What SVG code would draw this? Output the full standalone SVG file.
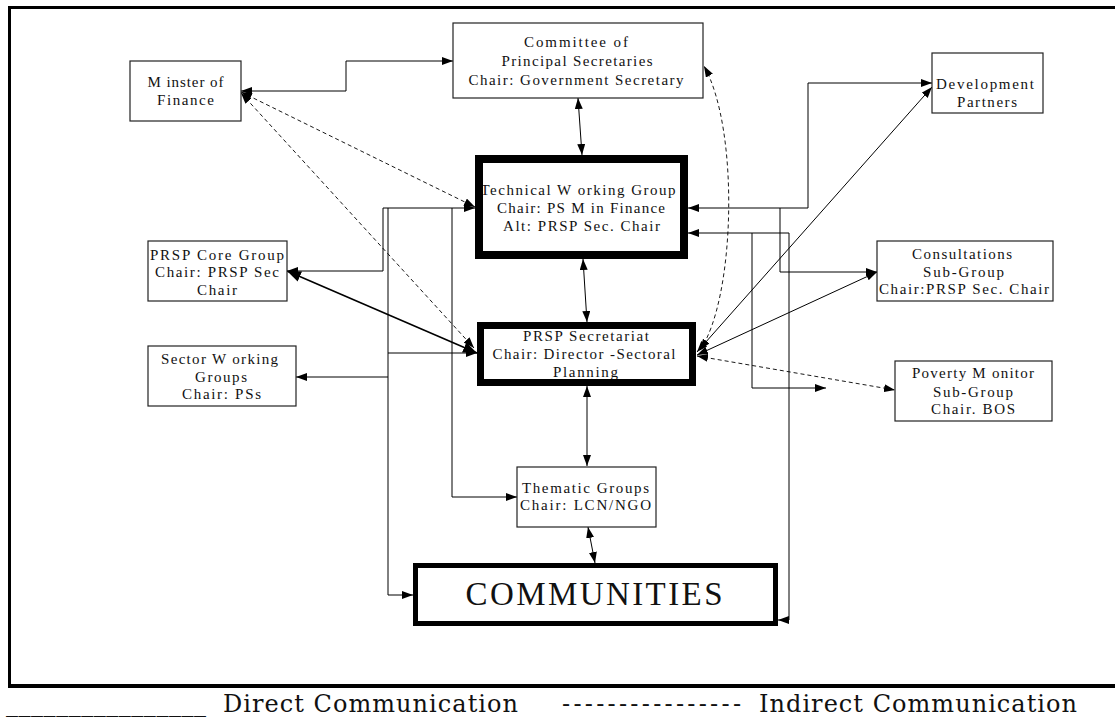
<svg xmlns="http://www.w3.org/2000/svg" width="1115" height="720" viewBox="0 0 1115 720">
<style>
  .box { fill: #fff; stroke: #222; stroke-width: 1.2; }
  .thick { fill: none; stroke: #000; }
  .lbl { font-family: "Liberation Serif", "Times New Roman", serif; font-size: 15px; fill: #111; text-anchor: middle; }
  .big { font-family: "Liberation Serif", "Times New Roman", serif; font-size: 33px; fill: #111; text-anchor: middle; }
  .leg { font-family: "DejaVu Serif", "Liberation Serif", serif; font-size: 24px; fill: #111; }
  .ln { fill: none; stroke: #000; stroke-width: 1; }
  .lnb { fill: none; stroke: #000; stroke-width: 1.6; }
  .dash { fill: none; stroke: #000; stroke-width: 0.9; stroke-dasharray: 4 3; }
</style>
<defs>
  <marker id="ah" viewBox="0 0 11 8" refX="11" refY="4" markerWidth="11" markerHeight="8" markerUnits="userSpaceOnUse" orient="auto-start-reverse">
    <path d="M0,0 L11,4 L0,8 z" fill="#000"/>
  </marker>
  <marker id="ahb" viewBox="0 0 14 11" refX="14" refY="5.5" markerWidth="14" markerHeight="11" markerUnits="userSpaceOnUse" orient="auto-start-reverse">
    <path d="M0,0 L14,5.5 L0,11 z" fill="#000"/>
  </marker>
</defs>

<rect x="0" y="0" width="1115" height="720" fill="#fff"/>

<!-- outer frame -->
<g id="frame">
  <path d="M1120,7.5 H9.5 V686" fill="none" stroke="#000" stroke-width="3"/>
  <line x1="8" y1="686" x2="1120" y2="686" stroke="#000" stroke-width="4"/>
</g>

<!-- connectors -->
<g id="connectors">
  <path class="ln" d="M241,91 H346 V61 H453" marker-start="url(#ah)" marker-end="url(#ah)"/>
  <path class="ln" d="M578,98 L582,155" marker-start="url(#ah)" marker-end="url(#ah)"/>
  <path class="ln" d="M583,259 L587,322" marker-start="url(#ah)" marker-end="url(#ah)"/>
  <path class="ln" d="M587,386 L587,466" marker-start="url(#ah)" marker-end="url(#ah)"/>
  <path class="ln" d="M588,527 L595,563" marker-start="url(#ah)" marker-end="url(#ah)"/>
  <path class="ln" d="M475,208 H383 V271 H287" marker-start="url(#ah)" marker-end="url(#ah)"/>
  <path class="lnb" d="M287,271 L477,353" marker-start="url(#ahb)" marker-end="url(#ahb)"/>
  <path class="ln" d="M388,208 V595 H413" marker-end="url(#ah)"/>
  <path class="ln" d="M388,353 H477" marker-end="url(#ah)"/>
  <path class="ln" d="M388,377 H296" marker-end="url(#ah)"/>
  <path class="ln" d="M452,208 V497 H517" marker-end="url(#ah)"/>
  <path class="ln" d="M688,208 H808 V83 H932" marker-start="url(#ah)" marker-end="url(#ah)"/>
  <path class="ln" d="M780,208 V272 H877" marker-end="url(#ah)"/>
  <path class="ln" d="M688,233 H789 V620 H778" marker-start="url(#ah)" marker-end="url(#ah)"/>
  <path class="ln" d="M752,233 V388 H826" marker-end="url(#ah)"/>
  <path class="ln" d="M932,87 L697,352" marker-start="url(#ah)" marker-end="url(#ah)"/>
  <path class="ln" d="M877,272 L697,355" marker-start="url(#ah)" marker-end="url(#ah)"/>
  <path class="dash" d="M241,92 L475,207" marker-start="url(#ah)" marker-end="url(#ah)"/>
  <path class="dash" d="M241,93 L474,348" marker-start="url(#ah)" marker-end="url(#ah)"/>
  <path class="dash" d="M697,356 L895,390" marker-start="url(#ah)" marker-end="url(#ah)"/>
  <path class="dash" d="M700,350 C735,300 740,130 704,66" marker-start="url(#ah)" marker-end="url(#ah)"/>
</g>

<g id="minister">
  <rect class="box" x="130" y="61" width="111" height="60"/>
  <text class="lbl" x="185.5" y="87" textLength="76" lengthAdjust="spacing">M inster of</text>
  <text class="lbl" x="185.5" y="105" textLength="57" lengthAdjust="spacing">Finance</text>
</g>

<g id="committee">
  <rect class="box" x="453" y="23" width="250" height="75"/>
  <text class="lbl" x="576" y="47" textLength="104" lengthAdjust="spacing">Committee of</text>
  <text class="lbl" x="577" y="66" textLength="151" lengthAdjust="spacing">Principal Secretaries</text>
  <text class="lbl" x="576" y="85" textLength="215" lengthAdjust="spacing">Chair: Government Secretary</text>
</g>

<g id="devpartners">
  <rect class="box" x="932" y="53" width="111" height="60"/>
  <text class="lbl" x="985" y="89" textLength="98" lengthAdjust="spacing">Development</text>
  <text class="lbl" x="987" y="107" textLength="60" lengthAdjust="spacing">Partners</text>
</g>

<g id="twg">
  <rect x="479" y="159" width="205" height="96" fill="#fff"/>
  <text class="lbl" x="578" y="195" textLength="195" lengthAdjust="spacing">Technical W orking Group</text>
  <text class="lbl" x="581" y="213" textLength="168" lengthAdjust="spacing">Chair: PS M in Finance</text>
  <text class="lbl" x="581.5" y="231" textLength="157" lengthAdjust="spacing">Alt: PRSP Sec. Chair</text>
  <rect class="thick" x="479" y="159" width="205" height="96" stroke-width="8"/>
</g>

<g id="coregroup">
  <rect class="box" x="148" y="241" width="139" height="60"/>
  <text class="lbl" x="217" y="260" textLength="134" lengthAdjust="spacing">PRSP Core Group</text>
  <text class="lbl" x="217" y="277" textLength="124" lengthAdjust="spacing">Chair: PRSP Sec</text>
  <text class="lbl" x="217" y="295" textLength="40" lengthAdjust="spacing">Chair</text>
</g>

<g id="consultations">
  <rect class="box" x="877" y="241" width="176" height="60"/>
  <text class="lbl" x="962" y="259" textLength="100" lengthAdjust="spacing">Consultations</text>
  <text class="lbl" x="963.5" y="277" textLength="81" lengthAdjust="spacing">Sub-Group</text>
  <text class="lbl" x="964" y="294" textLength="170" lengthAdjust="spacing">Chair:PRSP Sec. Chair</text>
</g>

<g id="secretariat">
  <rect x="480.5" y="325.5" width="212" height="57" fill="#fff"/>
  <text class="lbl" x="586" y="341" textLength="126" lengthAdjust="spacing">PRSP Secretariat</text>
  <text class="lbl" x="584" y="359" textLength="183" lengthAdjust="spacing">Chair: Director -Sectoral</text>
  <text class="lbl" x="585.5" y="377" textLength="65" lengthAdjust="spacing">Planning</text>
  <rect class="thick" x="480.5" y="325.5" width="212" height="57" stroke-width="7"/>
</g>

<g id="sector">
  <rect class="box" x="148" y="346" width="148" height="60"/>
  <text class="lbl" x="219.5" y="364" textLength="117" lengthAdjust="spacing">Sector W orking</text>
  <text class="lbl" x="221" y="382" textLength="52" lengthAdjust="spacing">Groups</text>
  <text class="lbl" x="221.5" y="399" textLength="79" lengthAdjust="spacing">Chair: PSs</text>
</g>

<g id="poverty">
  <rect class="box" x="895" y="361" width="157" height="60"/>
  <text class="lbl" x="973" y="378" textLength="122" lengthAdjust="spacing">Poverty M onitor</text>
  <text class="lbl" x="973" y="397" textLength="80" lengthAdjust="spacing">Sub-Group</text>
  <text class="lbl" x="973" y="414" textLength="84" lengthAdjust="spacing">Chair. BOS</text>
</g>

<g id="thematic">
  <rect class="box" x="517" y="467" width="139" height="60"/>
  <text class="lbl" x="585.5" y="493" textLength="127" lengthAdjust="spacing">Thematic Groups</text>
  <text class="lbl" x="585.5" y="510" textLength="131" lengthAdjust="spacing">Chair: LCN/NGO</text>
</g>

<g id="communities">
  <rect x="415.5" y="565.5" width="360" height="58" fill="#fff"/>
  <text class="big" x="594" y="605" textLength="257" lengthAdjust="spacing">COMMUNITIES</text>
  <rect class="thick" x="415.5" y="565.5" width="360" height="58" stroke-width="5"/>
</g>

<g id="legend">
  <text class="leg" x="6" y="711" textLength="200" lengthAdjust="spacing">________________</text>
  <text class="leg" x="223" y="712" textLength="295" lengthAdjust="spacing">Direct Communication</text>
  <text class="leg" x="562" y="712" textLength="179" lengthAdjust="spacing">----------------</text>
  <text class="leg" x="759" y="712" textLength="318" lengthAdjust="spacing">Indirect Communication</text>
</g>
</svg>
